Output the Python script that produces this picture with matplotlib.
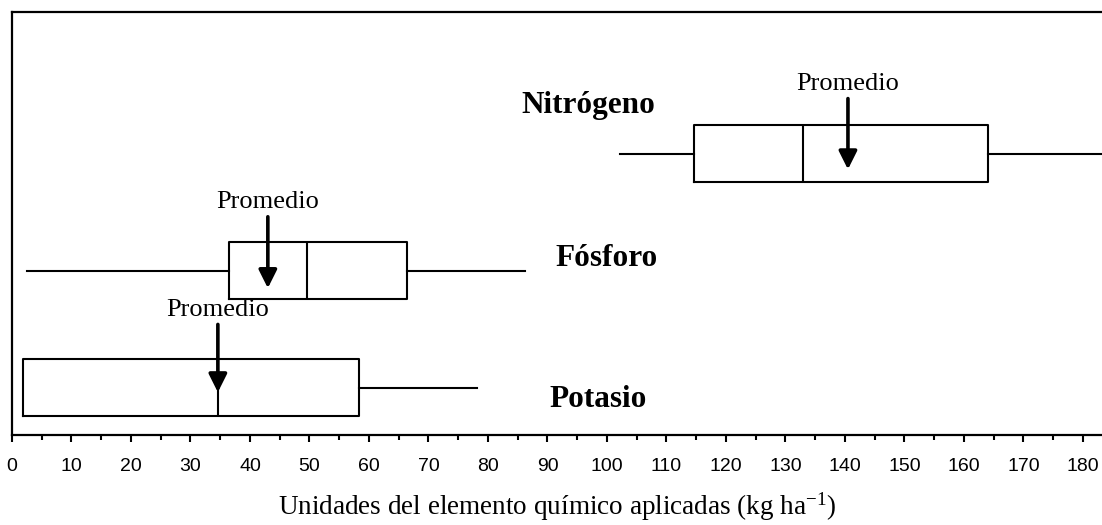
import numpy as np
import matplotlib
matplotlib.use('Agg')
import matplotlib.pyplot as plt
from matplotlib.ticker import MultipleLocator

# boxplot summaries (kg/ha), bottom to top
elements = ['Potasio', 'Fósforo', 'Nitrógeno']
whis_lo = [1.8, 2.5, 102.2]
q1 = [1.8, 36.5, 114.6]
median = [34.6, 49.6, 132.9]
q3 = [58.3, 66.4, 164.0]
whis_hi = [78.2, 86.2, 183.5]
mean = [34.6, 43.0, 140.5]

positions = [1, 2, 3]
# where each arrow starts/ends relative to the box centre
arrow_top = [0.54, 0.46, 0.47]
arrow_tip = [-0.04, -0.15, -0.135]
label_xy = [(98.5, -0.10), (100.0, 0.10), (96.8, 0.415)]

plt.rcParams['mathtext.fontset'] = 'custom'
plt.rcParams['mathtext.rm'] = 'Liberation Serif'
plt.rcParams['mathtext.it'] = 'Liberation Serif:italic'

fig = plt.figure(figsize=(11.02, 5.25), dpi=100)
ax = fig.add_axes([12 / 1102, 90 / 525, 1 - 12 / 1102, 423 / 525])

stats = []
for i in range(len(elements)):
    stats.append(dict(label=elements[i], whislo=whis_lo[i], q1=q1[i], med=median[i],
                      q3=q3[i], whishi=whis_hi[i], fliers=[]))

ax.bxp(stats, positions=positions, vert=False, widths=0.49, showcaps=False,
       showfliers=False, patch_artist=False,
       boxprops=dict(color='black', linewidth=1.5),
       whiskerprops=dict(color='black', linewidth=1.5),
       medianprops=dict(color='black', linewidth=1.5))

for i in range(len(elements)):
    y = positions[i]
    ax.annotate('', xy=(mean[i], y + arrow_tip[i]), xytext=(mean[i], y + arrow_top[i]),
                arrowprops=dict(arrowstyle='-|>,head_length=0.5,head_width=0.25',
                                color='black', lw=2.6, mutation_scale=22,
                                shrinkA=0, shrinkB=0))
    ax.text(mean[i], y + arrow_top[i] + 0.03, 'Promedio', ha='center', va='bottom',
            family='Liberation Serif', fontsize=19)
    lx, dy = label_xy[i]
    ax.text(lx, y + dy, elements[i], ha='center', va='center',
            family='Liberation Serif', fontweight='bold', fontsize=22.5)

ax.set_xlim(0, 183.2)
ax.set_ylim(0.595, 4.21)
ax.set_yticks([])
ax.xaxis.set_major_locator(MultipleLocator(10))
ax.xaxis.set_minor_locator(MultipleLocator(5))
ax.tick_params(axis='x', which='major', length=5, width=1.5, pad=11.5,
               labelsize=14)
ax.tick_params(axis='x', which='minor', length=3.5, width=1.5)
for lab in ax.get_xticklabels():
    lab.set_family('Liberation Sans')
ax.spines['right'].set_visible(False)
for s in ['left', 'top', 'bottom']:
    ax.spines[s].set_linewidth(1.6)

ax.set_xlabel('Unidades del elemento químico aplicadas (kg ha$^{-1}$)',
              family='Liberation Serif', fontsize=19.5, labelpad=11)

fig.savefig('out.png', dpi=100)
